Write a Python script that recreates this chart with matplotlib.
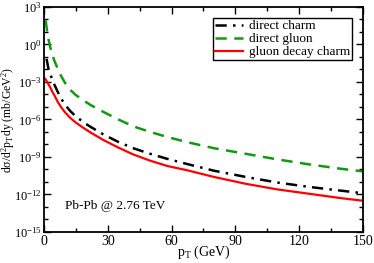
import numpy as np
import matplotlib
matplotlib.use('Agg')
import matplotlib.pyplot as plt
from matplotlib.ticker import FixedLocator

plt.rcParams['font.family'] = ['Liberation Serif', 'DejaVu Serif']
plt.rcParams['mathtext.default'] = 'regular'

# values (log10 of dsigma/d2pT dy)
pt_green = [0.8, 1.5, 2, 3, 4, 5, 6.5, 8, 10, 12.5, 15, 18.8, 22, 28, 35, 42, 50, 58, 67, 80,
            95, 110, 125, 140, 150]
log_green = [1.93, 1.0, 0.5, -0.25, -0.85, -1.35, -1.95, -2.5, -3.1, -3.65, -4.05, -4.5, -4.85,
             -5.4, -6.0, -6.55, -7.0, -7.4, -7.8, -8.3, -8.75, -9.2, -9.6, -9.95, -10.15]

pt_black = [1.2, 2, 3, 4, 5, 6.5, 8, 10, 12.5, 15, 18.8, 22, 28, 35, 42, 50, 58, 67, 80,
            95, 110, 125, 140, 150]
log_black = [-1.14, -1.85, -2.4, -2.85, -3.25, -3.8, -4.3, -4.85, -5.35, -5.75, -6.25, -6.6,
             -7.2, -7.8, -8.3, -8.75, -9.15, -9.55, -10.1, -10.6, -11.05, -11.4, -11.7, -11.9]

pt_red = [0.5, 1, 2, 3, 4, 5, 6.5, 8, 10, 12.5, 15, 18.8, 22, 28, 35, 42, 50, 58, 67, 80,
          95, 110, 125, 140, 150]
log_red = [-2.75, -2.85, -3.15, -3.45, -3.8, -4.1, -4.6, -5.0, -5.45, -5.9, -6.25, -6.7, -7.05,
           -7.65, -8.25, -8.8, -9.3, -9.72, -10.05, -10.6, -11.15, -11.6, -11.95, -12.3, -12.5]

y_major = [-15, -12, -9, -6, -3, 0, 3]
x_major = [0, 30, 60, 90, 120, 150]

fig = plt.figure(figsize=(3.74, 2.63), dpi=100)
ax = fig.add_axes([0.1176, 0.1179, 0.8530, 0.8555])

ax.semilogy(pt_black, 10.0 ** np.array(log_black), color='black', lw=1.8,
            dashes=[4.5, 2.5, 1, 2.5], label='direct charm')
ax.semilogy(pt_green, 10.0 ** np.array(log_green), color='#119911', lw=1.8,
            dashes=[4.5, 3], label='direct gluon')
ax.semilogy(pt_red, 10.0 ** np.array(log_red), color='#ff0000', lw=1.6,
            label='gluon decay charm')

ax.set_xlim(0, 150)
ax.set_ylim(1e-15, 1e3)

ax.set_xticks(x_major)
ax.xaxis.set_minor_locator(FixedLocator(np.arange(0, 151, 15)))
ax.set_yticks([10.0 ** e for e in y_major])
ax.set_yticklabels([r'10$^{%d}$' % e for e in y_major])
ax.yaxis.set_minor_locator(FixedLocator([10.0 ** e for e in range(-15, 4)]))
ax.tick_params(which='both', direction='in', top=True, right=True, width=1)
ax.tick_params(which='major', length=5)
ax.tick_params(which='minor', length=3, labelleft=False)
ax.tick_params(axis='x', pad=2, labelsize=10)
ax.tick_params(axis='y', pad=1.5, labelsize=9)
for s in ax.spines.values():
    s.set_linewidth(1.3)

ax.set_xlabel(r'p$_T$ (GeV)', fontsize=10)
ax.xaxis.set_label_coords(0.5, -0.05)
ax.set_ylabel(r'd$\sigma$/d$^2$p$_T$dy (mb/GeV$^2$)', fontsize=8.5)
ax.yaxis.set_label_coords(-0.084, 0.5)

ax.text(0.066, 0.115, 'Pb-Pb @ 2.76 TeV', transform=ax.transAxes, fontsize=9.5, va='center')

leg = ax.legend(loc='upper right', bbox_to_anchor=(0.9655, 0.951), fontsize=9.5, fancybox=False,
                framealpha=1, edgecolor='black', handlelength=2.1, borderpad=0.15,
                labelspacing=0.06, handletextpad=0.45, borderaxespad=0)
leg.get_frame().set_linewidth(1.0)

fig.savefig('out.png', dpi=100)
